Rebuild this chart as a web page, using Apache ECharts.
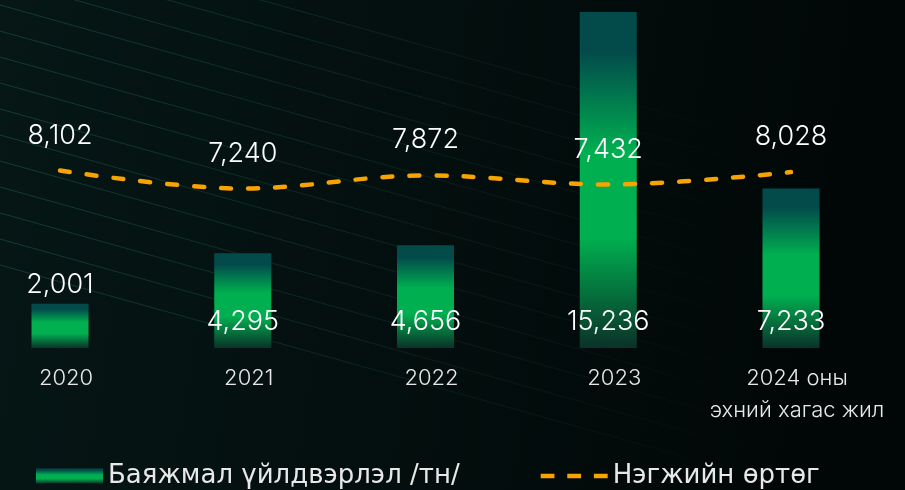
<!DOCTYPE html>
<html>
<head>
<meta charset="utf-8">
<script src="https://cdn.jsdelivr.net/npm/echarts@6/dist/echarts.min.js"></script>
<style>
  html, body { margin: 0; padding: 0; background: #020a0a; }
  #chart { width: 905px; height: 490px; }
</style>
</head>
<body>
<div id="chart"></div>
<script>
// 数据
const years = ['2020', '2021', '2022', '2023', '2024 оны\nэхний хагас жил'];
const output = [2001, 4295, 4656, 15236, 7233];
const unitCost = [8102, 7240, 7872, 7432, 8028];
const seriesNames = ['Баяжмал үйлдвэрлэл /тн/', 'Нэгжийн өртөг'];

const FONT = 'Inter, Lato, sans-serif';

function barGradient() {
    return new echarts.graphic.LinearGradient(0, 0, 0, 1, [
        { offset: 0, color: '#034b4b' },
        { offset: 0.12, color: '#034b4b' },
        { offset: 0.42, color: '#00b050' },
        { offset: 0.67, color: '#00b050' },
        { offset: 1, color: '#0b3229' }
    ]);
}

// 背景斜线（装饰）
function bgLines() {
    const list = [];
    for (let i = 0; i < 14; i++) {
        const y0 = 7 + i * 26 - 80;
        list.push({
            type: 'line',
            silent: true,
            z: -10,
            shape: { x1: 0, y1: y0, x2: 760, y2: y0 + 760 * 0.28 },
            style: {
                stroke: new echarts.graphic.LinearGradient(0, 0, 1, 0, [
                    { offset: 0, color: 'rgba(40,130,100,0.35)' },
                    { offset: 1, color: 'rgba(40,130,100,0)' }
                ]),
                lineWidth: 1
            }
        });
    }
    return list;
}

function valueFmt(p) {
    return p.value.toLocaleString('en-US');
}

function init() {
    const chart = echarts.init(document.getElementById('chart'));

    const barData = output.map(function (v) {
        // 柱子太矮时标签放在顶部
        if (v < 3000) {
            return { value: v, label: { position: 'top', distance: 5 } };
        }
        return v;
    });

    const option = {
        backgroundColor: new echarts.graphic.LinearGradient(0, 0, 1, 0.3, [
            { offset: 0, color: '#061716' },
            { offset: 1, color: '#010606' }
        ]),
        animation: false,
        graphic: bgLines(),
        grid: { left: 60, right: 114, top: 12, bottom: 142 },
        legend: {
            left: 36,
            top: 463,
            padding: 0,
            itemWidth: 67,
            itemHeight: 15,
            itemGap: 81,
            textStyle: { color: '#e8e8e8', fontSize: 26, fontFamily: '"DejaVu Sans", sans-serif' },
            data: [
                { name: seriesNames[0], icon: 'rect' },
                {
                    name: seriesNames[1],
                    icon: 'path://M0,0h14v4.5h-14z M27,0h14v4.5h-14z M54,0h14v4.5h-14z',
                    itemStyle: { color: '#f7a300', borderWidth: 0 }
                }
            ]
        },
        xAxis: {
            type: 'category',
            data: years,
            boundaryGap: false,
            axisLine: { show: false },
            axisTick: { show: false },
            axisLabel: {
                interval: 0,
                color: '#e8e8e8',
                fontSize: 22,
                fontFamily: FONT,
                fontWeight: 300,
                lineHeight: 32,
                margin: 14,
                padding: [0, 0, 0, 12]
            }
        },
        yAxis: [
            { type: 'value', min: 0, max: 15236, show: false },
            { type: 'value', min: -400, max: 15700, show: false }
        ],
        series: [
            {
                name: seriesNames[0],
                type: 'bar',
                barWidth: 57,
                data: barData,
                itemStyle: { color: barGradient() },
                label: {
                    show: true,
                    position: 'insideBottom',
                    distance: 13,
                    color: '#ffffff',
                    fontSize: 27,
                    fontFamily: FONT,
                    fontWeight: 300,
                    formatter: valueFmt
                },
                z: 2
            },
            {
                name: seriesNames[1],
                type: 'line',
                yAxisIndex: 1,
                data: unitCost,
                smooth: 0.35,
                symbol: 'circle',
                symbolSize: 1,
                showSymbol: true,
                lineStyle: { color: '#f7a300', width: 4.5, type: [10, 17], cap: 'round' },
                itemStyle: { color: 'rgba(0,0,0,0)', borderWidth: 0 },
                label: {
                    show: true,
                    position: 'top',
                    distance: 21,
                    color: '#ffffff',
                    fontSize: 27,
                    fontFamily: FONT,
                    fontWeight: 300,
                    formatter: valueFmt
                },
                z: 3
            }
        ]
    };

    chart.setOption(option);
}

window.addEventListener('DOMContentLoaded', init);
</script>
</body>
</html>
